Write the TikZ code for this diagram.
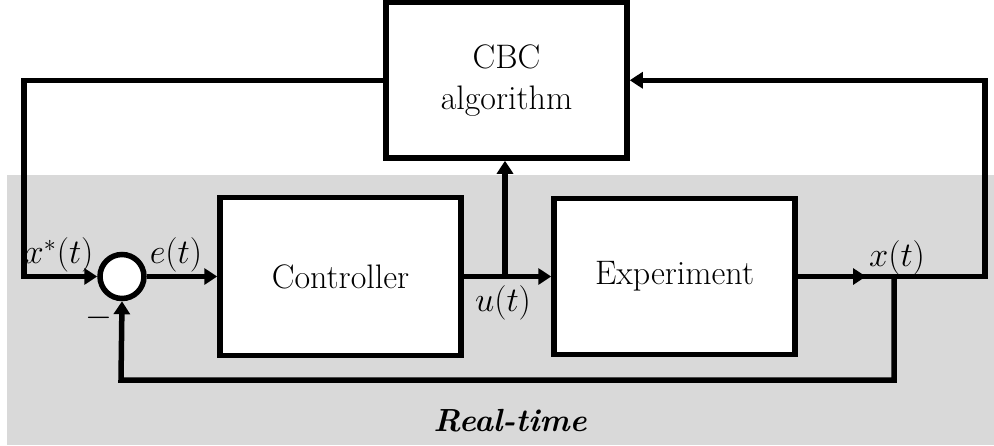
\documentclass[tikz,border=0pt]{standalone}
\usetikzlibrary{arrows.meta}
\definecolor{rtgray}{RGB}{217,217,217}
\begin{document}
\begin{tikzpicture}[x=0.5pt,y=-0.5pt,
  lw/.style={line width=2.75pt},
  blk/.style={draw,lw,fill=white,minimum width=120.5pt,inner sep=0pt,align=center,font=\fontsize{17}{20.5}\selectfont},
  sumnode/.style={draw,lw,fill=white,circle,minimum size=22pt,inner sep=0pt},
  conn/.style={lw,line join=miter},
  arr/.style={conn,-{Triangle[length=6.5pt,width=8pt]}},
  lbl/.style={font=\fontsize{16.5}{19}\selectfont,inner sep=0pt}]
\useasboundingbox (0,0) rectangle (994,445);
\fill[rtgray] (7,175) rectangle (994,445);
\node[blk,minimum height=77.75pt] (cbc) at (506.5,80.25) {CBC\\algorithm};
\node[blk,minimum height=79pt] (ctrl) at (340.5,276.5) {Controller};
\node[blk,minimum height=78pt] (expt) at (674.5,276.5) {Experiment};
\node[sumnode] (sum) at (122,276.5) {};
\coordinate (br) at (505,276.5);
\coordinate (xa) at (866,276.5);
\coordinate (xo) at (894,276.5);
\coordinate (rt) at (985,276.5);
\coordinate (lt) at (24,276.5);
\coordinate (fb) at (121,380);
% connectors
\draw[arr] (cbc.west) -| (lt) -- (sum.west);
\draw[arr] (sum.east) -- (ctrl.west);
\draw[arr] (ctrl.east) -- (expt.west);
\draw[arr] (br) -- (br |- cbc.south);
\draw[arr] (expt.east) -- (rt) |- (cbc.east);
\draw[arr] (expt.east) -- (xa);
\draw[arr] (xo) |- (fb) -- (sum.south);
% labels
\node[lbl] (lx) at (59,255) {$x^*(t)$};
\node[lbl] (le) at (176,255) {$e(t)$};
\node[lbl] (lu) at (503,303) {$u(t)$};
\node[lbl] (lxo) at (897,258) {$x(t)$};
\node[lbl] (lm) at (99,318) {$-$};
\node[lbl,font=\fontsize{16}{19}\selectfont] (lrt) at (510,421) {\textbf{\textit{Real-time}}};
\end{tikzpicture}
\end{document}
